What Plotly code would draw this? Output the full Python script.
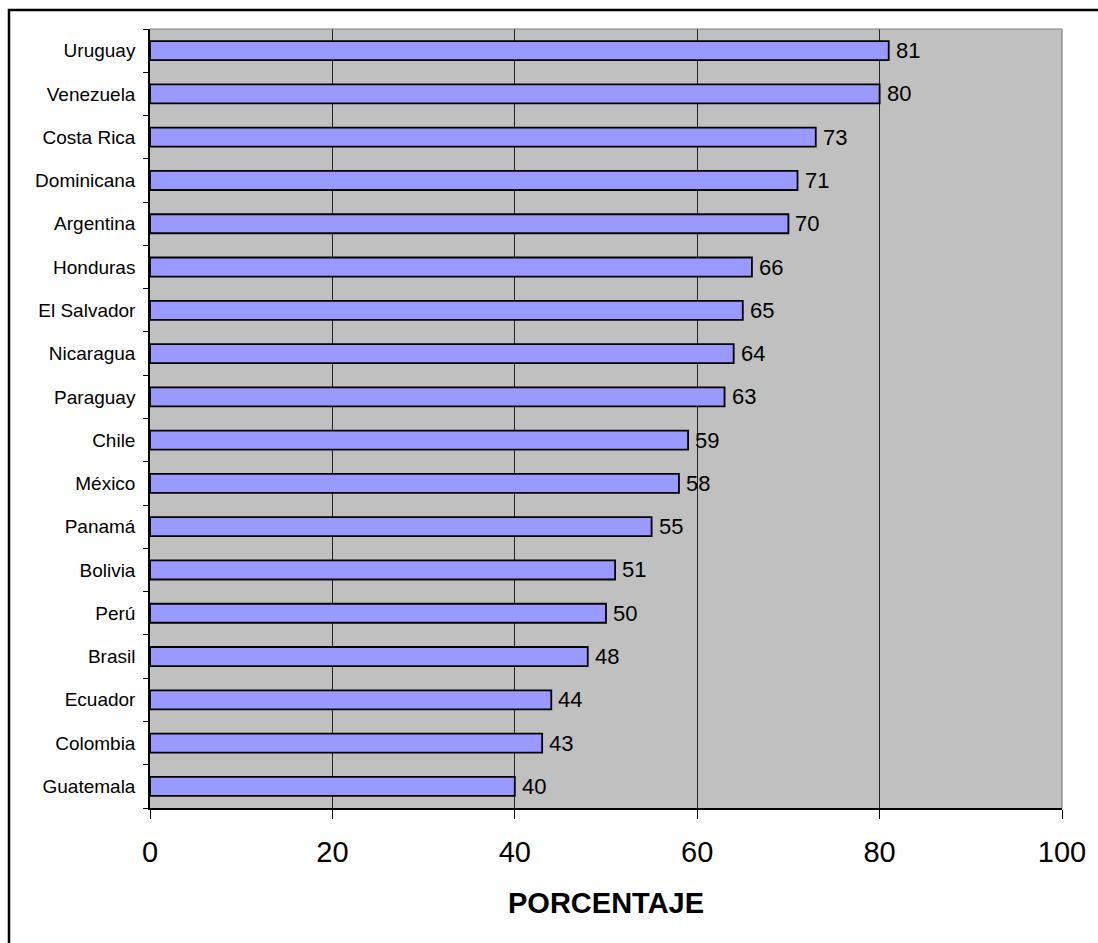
import plotly.graph_objects as go

# Percentage per country, listed bottom to top as drawn
countries = ["Guatemala", "Colombia", "Ecuador", "Brasil", "Perú", "Bolivia",
             "Panamá", "México", "Chile", "Paraguay", "Nicaragua", "El Salvador",
             "Honduras", "Argentina", "Dominicana", "Costa Rica", "Venezuela", "Uruguay"]
values = [40, 43, 44, 48, 50, 51, 55, 58, 59, 63, 64, 65, 66, 70, 71, 73, 80, 81]
x_ticks = [0, 20, 40, 60, 80, 100]
x_title = "PORCENTAJE"

W, H = 1098, 943
L, R, T, B = 150, 36, 29, 135
FONT = "Liberation Sans, Arial, sans-serif"

fig = go.Figure()
fig.add_trace(go.Bar(
    x=values, y=countries, orientation="h",
    marker=dict(color="#9999FF", line=dict(color="black", width=1.8)),
    hoverinfo="x+y",
))

# value labels to the right of each bar
for c, v in zip(countries, values):
    fig.add_annotation(x=v, y=c, text=str(v), showarrow=False,
                       xanchor="left", yanchor="middle", xshift=5,
                       font=dict(family=FONT, size=22, color="black"))

# axis title
fig.add_annotation(x=0.5, y=-0.122, xref="paper", yref="paper",
                   text=f"<b>{x_title}</b>", showarrow=False,
                   xanchor="center", yanchor="middle",
                   font=dict(family=FONT, size=29, color="black"))

pw = W - L - R
ph = H - T - B
# plot-area top and right edges in gray
fig.add_shape(type="line", xref="paper", yref="paper", x0=0, x1=1, y0=1, y1=1,
              line=dict(color="#808080", width=1.2))
fig.add_shape(type="line", xref="paper", yref="paper", x0=1, x1=1, y0=0, y1=1,
              line=dict(color="#808080", width=1.2))
# outer chart frame
fig.add_shape(type="rect", xref="paper", yref="paper",
              x0=(9 - L) / pw, x1=(W + 20 - L) / pw,
              y0=(H - B - (H + 20)) / ph, y1=(H - B - 10) / ph,
              line=dict(color="black", width=2.5), fillcolor="rgba(0,0,0,0)")

fig.update_layout(
    width=W, height=H,
    margin=dict(l=L, r=R, t=T, b=B, pad=0),
    paper_bgcolor="white", plot_bgcolor="#C0C0C0",
    bargap=0.56, showlegend=False,
    font=dict(family=FONT, color="black"),
    xaxis=dict(range=[0, 100], tickvals=x_ticks, ticks="outside", ticklen=9,
               tickcolor="black", tickwidth=1.2,
               tickfont=dict(family=FONT, size=29, color="black"),
               showgrid=True, gridcolor="#222222", gridwidth=1,
               showline=True, linecolor="black", linewidth=1.5,
               zeroline=False, ticklabelstandoff=8, fixedrange=True),
    yaxis=dict(type="category", categoryorder="array", categoryarray=countries,
               ticks="outside", ticklen=5, tickson="boundaries",
               tickcolor="black", tickwidth=1.2,
               tickfont=dict(family=FONT, size=19, color="black"),
               showgrid=False, showline=True, linecolor="black", linewidth=1.5,
               ticklabelstandoff=9, fixedrange=True),
)

fig.write_html("out.html")
